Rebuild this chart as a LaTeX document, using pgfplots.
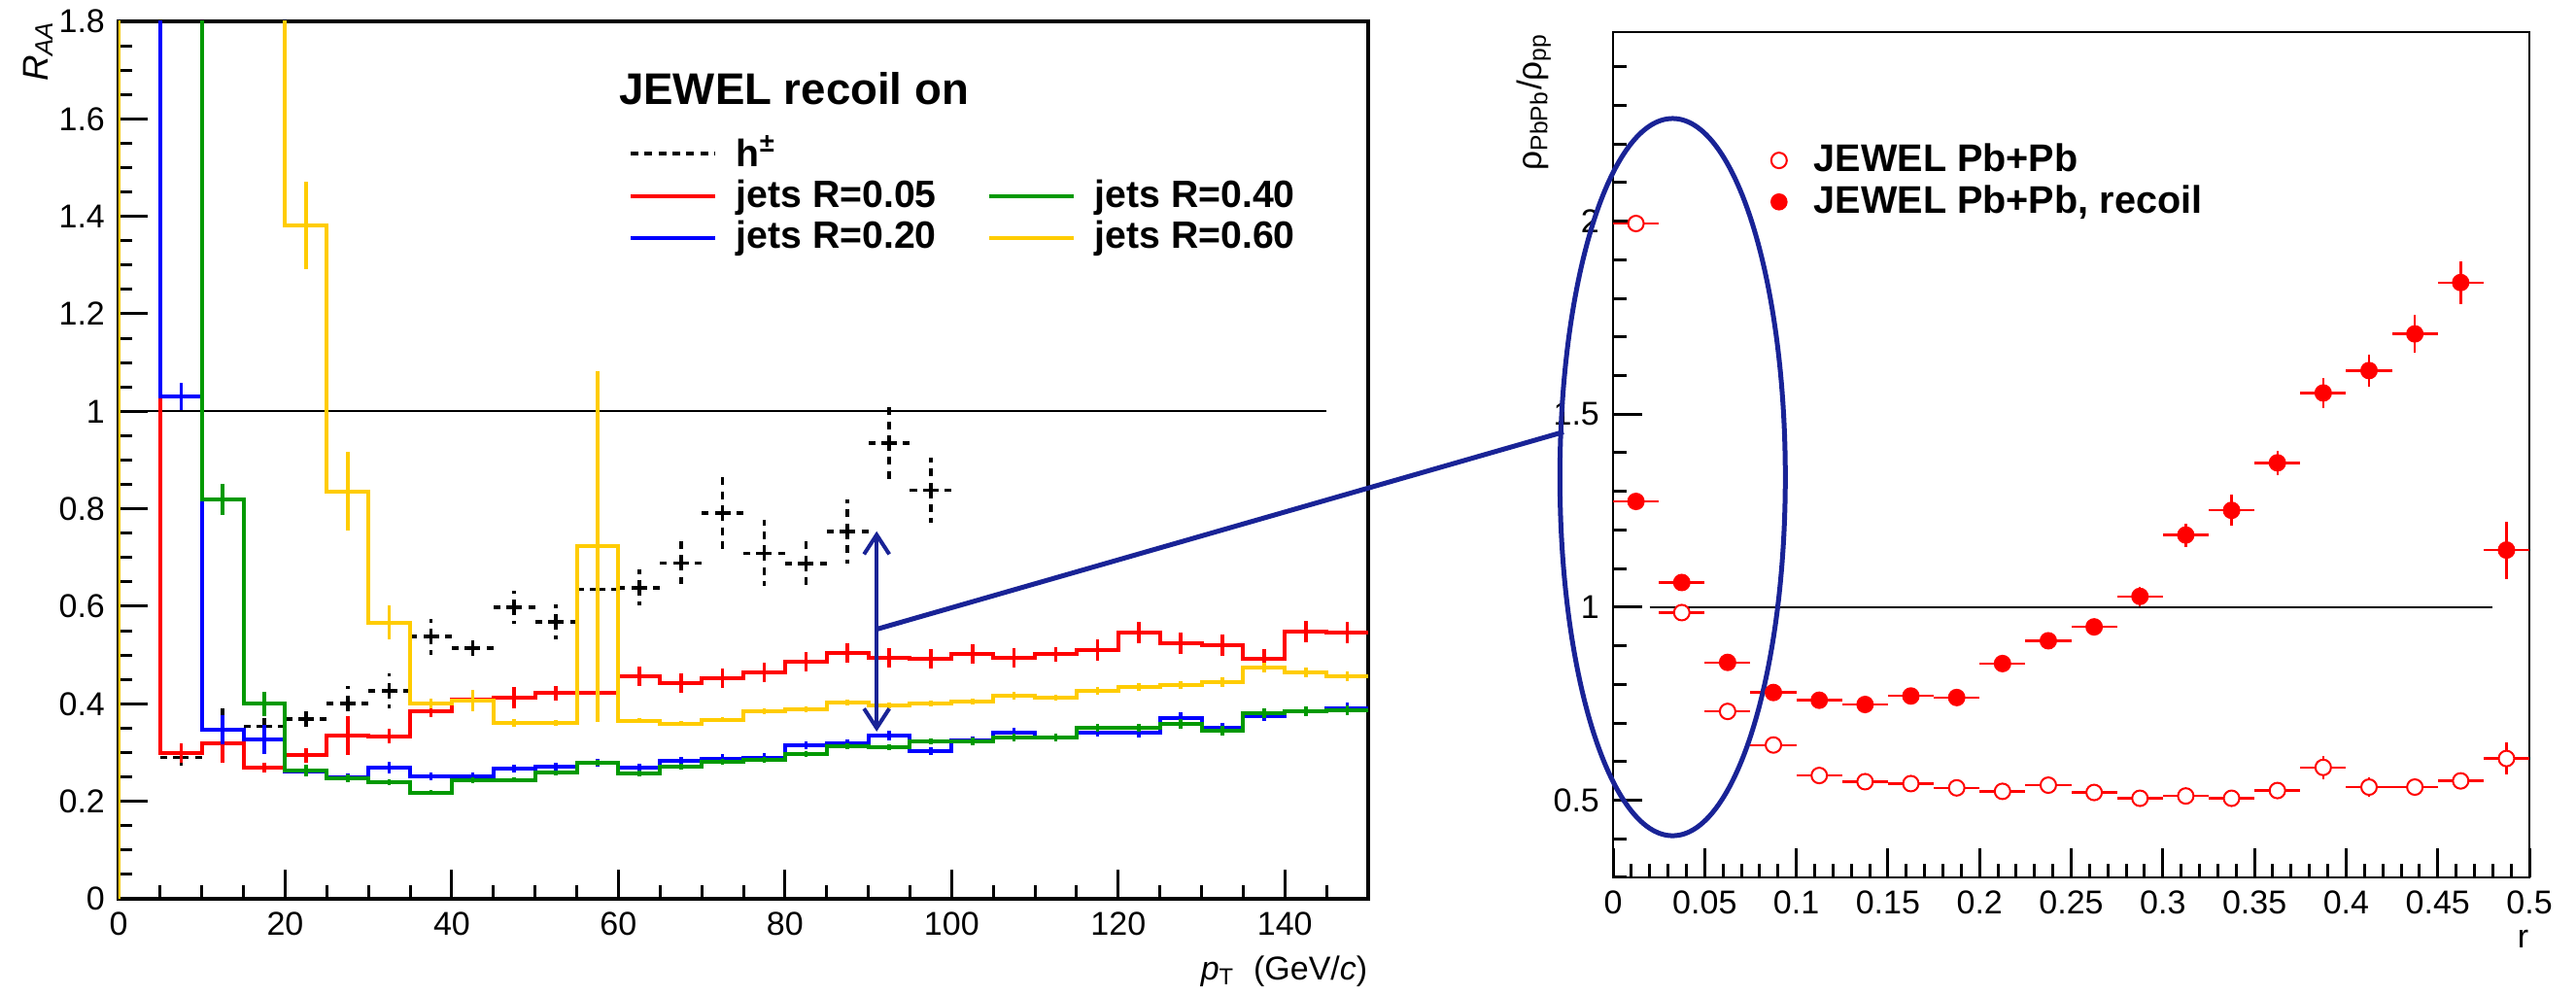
\documentclass[border=0pt]{standalone}
\usepackage{fontspec}
\setmainfont{Liberation Sans}
\usepackage{pgfplots}
\pgfplotsset{compat=1.18}
\usepackage{pgfplotstable}
\usetikzlibrary{arrows.meta}

\definecolor{rgreen}{RGB}{0,153,0}
\definecolor{ryellow}{RGB}{255,204,0}
\definecolor{navy}{RGB}{25,35,150}

% jet R_AA histograms (bin low edge, bin centre, value, error)
\pgfplotstableread{
lo c red ered blue eblue green egreen yel eyel
0 -5 0 0 0 0 0 0 0 0
0 2.5 3 0 3 0 3 0 3 0
5 7.5 0.299 0.020 1.030 0.028 3 0 3 0
10 12.5 0.318 0.038 0.347 0.030 0.820 0.032 3 0
15 17.5 0.270 0.010 0.327 0.030 0.400 0.025 3 0
20 22.5 0.294 0.015 0.261 0.008 0.263 0.012 1.382 0.090
25 27.5 0.334 0.040 0.250 0.008 0.248 0.008 0.836 0.080
30 32.5 0.333 0.015 0.270 0.012 0.240 0.006 0.567 0.035
35 37.5 0.385 0.012 0.252 0.008 0.218 0.005 0.400 0.010
40 42.5 0.409 0.010 0.252 0.008 0.243 0.006 0.407 0.022
45 47.5 0.412 0.022 0.268 0.008 0.244 0.005 0.361 0.008
50 52.5 0.422 0.015 0.272 0.008 0.259 0.005 0.361 0.006
55 57.5 0.422 0.015 0.279 0.008 0.279 0.006 0.723 0.360
60 62.5 0.457 0.020 0.270 0.008 0.257 0.006 0.365 0.005
65 67.5 0.442 0.020 0.283 0.008 0.272 0.006 0.359 0.005
70 72.5 0.453 0.020 0.288 0.008 0.281 0.006 0.367 0.005
75 77.5 0.465 0.020 0.290 0.008 0.285 0.006 0.385 0.006
80 82.5 0.486 0.020 0.315 0.008 0.297 0.006 0.389 0.006
85 87.5 0.504 0.020 0.318 0.008 0.313 0.006 0.403 0.006
90 92.5 0.495 0.020 0.335 0.010 0.311 0.006 0.396 0.006
95 97.5 0.492 0.020 0.303 0.008 0.322 0.006 0.401 0.006
100 102.5 0.503 0.020 0.325 0.008 0.322 0.008 0.405 0.006
105 107.5 0.495 0.020 0.340 0.010 0.330 0.008 0.417 0.008
110 112.5 0.502 0.015 0.330 0.008 0.330 0.008 0.412 0.006
115 117.5 0.511 0.022 0.340 0.008 0.350 0.008 0.427 0.008
120 122.5 0.547 0.022 0.341 0.010 0.350 0.008 0.434 0.008
125 127.5 0.524 0.022 0.370 0.012 0.358 0.010 0.438 0.008
130 132.5 0.520 0.022 0.350 0.010 0.344 0.010 0.444 0.010
135 137.5 0.493 0.020 0.374 0.010 0.380 0.010 0.474 0.010
140 142.5 0.549 0.022 0.384 0.010 0.384 0.010 0.465 0.010
145 147.5 0.547 0.022 0.391 0.012 0.387 0.010 0.457 0.010
150 160 0.547 0 0.391 0 0.387 0 0.457 0
}\jets

% charged hadrons
\pgfplotstableread{
c v e
7.5 0.290 0.022
12.5 0.347 0.048
17.5 0.354 0.030
22.5 0.369 0.025
27.5 0.401 0.036
32.5 0.427 0.036
37.5 0.538 0.037
42.5 0.514 0.025
47.5 0.598 0.033
52.5 0.568 0.035
57.5 0.635 0.045
62.5 0.638 0.037
67.5 0.689 0.044
72.5 0.791 0.084
77.5 0.709 0.068
82.5 0.688 0.053
87.5 0.754 0.066
92.5 0.935 0.075
97.5 0.838 0.066
}\hadrons

% jet shape ratio, recoil on
\pgfplotstableread{
r v e
0.0125 1.274 0.012
0.0375 1.064 0.012
0.0625 0.857 0.010
0.0875 0.779 0.010
0.1125 0.759 0.010
0.1375 0.748 0.010
0.1625 0.770 0.010
0.1875 0.766 0.010
0.2125 0.854 0.012
0.2375 0.913 0.012
0.2625 0.949 0.015
0.2875 1.028 0.025
0.3125 1.187 0.030
0.3375 1.251 0.040
0.3625 1.374 0.032
0.3875 1.555 0.038
0.4125 1.613 0.042
0.4375 1.708 0.050
0.4625 1.841 0.055
0.4875 1.148 0.074
}\recoil

% jet shape ratio, no recoil
\pgfplotstableread{
r v e
0.0125 1.994 0.010
0.0375 0.986 0.010
0.0625 0.730 0.010
0.0875 0.643 0.010
0.1125 0.564 0.010
0.1375 0.548 0.010
0.1625 0.543 0.010
0.1875 0.532 0.010
0.2125 0.523 0.010
0.2375 0.539 0.012
0.2625 0.520 0.010
0.2875 0.505 0.010
0.3125 0.511 0.010
0.3375 0.505 0.010
0.3625 0.525 0.015
0.3875 0.585 0.030
0.4125 0.534 0.025
0.4375 0.534 0.020
0.4625 0.550 0.020
0.4875 0.608 0.042
}\norecoil

\begin{document}
\begin{tikzpicture}
\useasboundingbox (0,0) rectangle (662.75pt,256pt);

\pgfplotsset{
  rootaxis/.style={
    anchor=south west, scale only axis,
    tick align=inside,
    major tick length=7.5pt, minor tick length=3.5pt,
    every tick/.style={black, line width=0.75pt},
    axis line style={line width=0.8pt},
    xtick pos=bottom, ytick pos=left,
    /pgf/number format/assume math mode=true,
    ticklabel style={font=\fontsize{8.5}{9}\selectfont},
    legend cell align=left,
  },
  errbar/.style={forget plot, draw=none, mark=none,
    error bars/.cd, y dir=both, y explicit, error mark=none,
    error bar style={draw=#1, solid, line width=0.9pt}},
}

\begin{axis}[rootaxis,
  at={(30.5pt,24.75pt)}, width=321.5pt, height=225.75pt,
  xmin=0, xmax=150, ymin=0, ymax=1.8,
  xtick={0,20,40,60,80,100,120,140},
  ytick={0,0.2,0.4,0.6,0.8,1,1.2,1.4,1.6,1.8},
  minor xtick={0,5,...,150},
  minor ytick={0,0.05,...,1.8},
  xlabel={\itshape p\textsubscript{\upshape T}\ \ \upshape(GeV/\textit{c})},
  xlabel style={at={(axis description cs:1,-0.092)}, anchor=base east, inner sep=0pt, font=\fontsize{8.5}{9}\selectfont},
  ylabel={\textit{R}\textsubscript{\textit{AA}}},
  ylabel style={at={(axis description cs:-0.052,1.002)}, anchor=south east, inner sep=0pt, font=\fontsize{9.2}{10}\selectfont},
  legend columns=2,
  legend image code/.code={\draw[#1] (0pt,0pt) -- (21.75pt,0pt);},
  legend style={draw=none, fill=none, inner sep=0pt,
    at={(axis description cs:0.4075,0.875)}, anchor=north west,
    font=\fontsize{9.8}{10}\selectfont\bfseries,
    nodes={inner sep=1pt},
    row sep=0pt,
    /tikz/every odd column/.append style={column sep=4pt},
    /tikz/every even column/.append style={column sep=12pt}},
]
\addplot[black, line width=0.5pt, forget plot] coordinates {(0,1) (145,1)};

% h+- as dashed error crosses
\addplot[forget plot, draw=none, mark=none,
  error bars/.cd, x dir=both, x fixed=2.5, y dir=both, y explicit, error mark=none,
  error bar style={draw=black, line width=0.9pt, dash pattern=on 2pt off 1.6pt}]
  table[x=c, y=v, y error=e]{\hadrons};

% histograms
\addplot[forget plot, red, line width=1pt, const plot mark left, mark=none] table[x=lo, y=red]{\jets};
\addplot[errbar=red] table[x=c, y=red, y error=ered]{\jets};
\addplot[forget plot, blue, line width=1pt, const plot mark left, mark=none] table[x=lo, y=blue]{\jets};
\addplot[errbar=blue] table[x=c, y=blue, y error=eblue]{\jets};
\addplot[forget plot, rgreen, line width=1pt, const plot mark left, mark=none] table[x=lo, y=green]{\jets};
\addplot[errbar=rgreen] table[x=c, y=green, y error=egreen]{\jets};
\addplot[forget plot, ryellow, line width=1pt, const plot mark left, mark=none] table[x=lo, y=yel]{\jets};
\addplot[errbar=ryellow] table[x=c, y=yel, y error=eyel]{\jets};

\addlegendimage{black, line width=1pt, dash pattern=on 2pt off 1.6pt}
\addlegendentry{h\textsuperscript{±}}
\addlegendimage{empty legend}
\addlegendentry{}
\addlegendimage{red, line width=1pt}
\addlegendentry{jets R=0.05}
\addlegendimage{rgreen, line width=1pt}
\addlegendentry{jets R=0.40}
\addlegendimage{blue, line width=1pt}
\addlegendentry{jets R=0.20}
\addlegendimage{ryellow, line width=1pt}
\addlegendentry{jets R=0.60}

\node[anchor=base west, inner sep=0pt, font=\fontsize{11.4}{12}\selectfont\bfseries] at (axis cs:60,1.6286) {JEWEL recoil on};

\draw[navy, line width=1pt, {Straight Barb[length=5pt,width=6.5pt]}-{Straight Barb[length=5pt,width=6.5pt]}]
  (axis cs:91,0.343) -- (axis cs:91,0.754);
\coordinate (A) at (axis cs:91,0.553);
\end{axis}

\begin{axis}[rootaxis,
  at={(415pt,30.25pt)}, width=235.75pt, height=217.5pt,
  clip=false,
  xmin=0, xmax=0.5, ymin=0.3, ymax=2.49,
  axis line style={line width=0.7pt},
  xtick={0,0.05,0.1,0.15,0.2,0.25,0.3,0.35,0.4,0.45,0.5},
  xticklabels={0,0.05,0.1,0.15,0.2,0.25,0.3,0.35,0.4,0.45,0.5},
  ytick={0.5,1,1.5,2},
  minor xtick={0,0.01,...,0.5},
  minor ytick={0.3,0.4,...,2.45},
  xlabel={r},
  xlabel style={at={(axis description cs:1,-0.083)}, anchor=base east, inner sep=0pt, font=\fontsize{8.5}{9}\selectfont},
  ylabel={ρ\textsubscript{PbPb}/ρ\textsubscript{pp}},
  ylabel style={at={(axis description cs:-0.067,1.0)}, anchor=south east, inner sep=0pt, font=\fontsize{8.8}{9}\selectfont},
  legend image code/.code={\draw[#1] plot coordinates {(0pt,0pt)};},
  legend style={draw=none, fill=none, inner sep=0pt,
    at={(axis description cs:0.1718,0.8736)}, anchor=north west,
    font=\fontsize{9.9}{10}\selectfont\bfseries,
    nodes={inner sep=1pt},
    row sep=0pt,
    /tikz/every odd column/.append style={column sep=6pt}},
]
\addplot[black, line width=0.5pt, forget plot] coordinates {(0.02,1) (0.48,1)};

\addplot[forget plot, draw=none, mark=none,
  error bars/.cd, x dir=both, x fixed=0.0125, y dir=both, y explicit, error mark=none,
  error bar style={draw=red, line width=0.6pt}]
  table[x=r, y=v, y error=e]{\norecoil};
\addplot[forget plot, only marks, mark=*, mark size=2pt, mark options={draw=red, fill=white, line width=0.5pt}]
  table[x=r, y=v]{\norecoil};
\addplot[forget plot, draw=none, mark=none,
  error bars/.cd, x dir=both, x fixed=0.0125, y dir=both, y explicit, error mark=none,
  error bar style={draw=red, line width=0.6pt}]
  table[x=r, y=v, y error=e]{\recoil};
\addplot[forget plot, only marks, mark=*, mark size=2pt, mark options={draw=red, fill=red, line width=0.5pt}]
  table[x=r, y=v]{\recoil};

\addlegendimage{only marks, mark=*, mark size=2pt, mark options={draw=red, fill=white, line width=0.5pt}}
\addlegendentry{JEWEL Pb+Pb}
\addlegendimage{only marks, mark=*, mark size=2pt, mark options={draw=red, fill=red}}
\addlegendentry{JEWEL Pb+Pb, recoil}

\draw[navy, line width=1.25pt] (axis cs:0.0325,1.337) ellipse [x radius=0.0615, y radius=0.929];
\coordinate (B) at (axis cs:-0.027,1.454);
\end{axis}

\draw[navy, line width=1.25pt] (A) -- (B);
\end{tikzpicture}
\end{document}
